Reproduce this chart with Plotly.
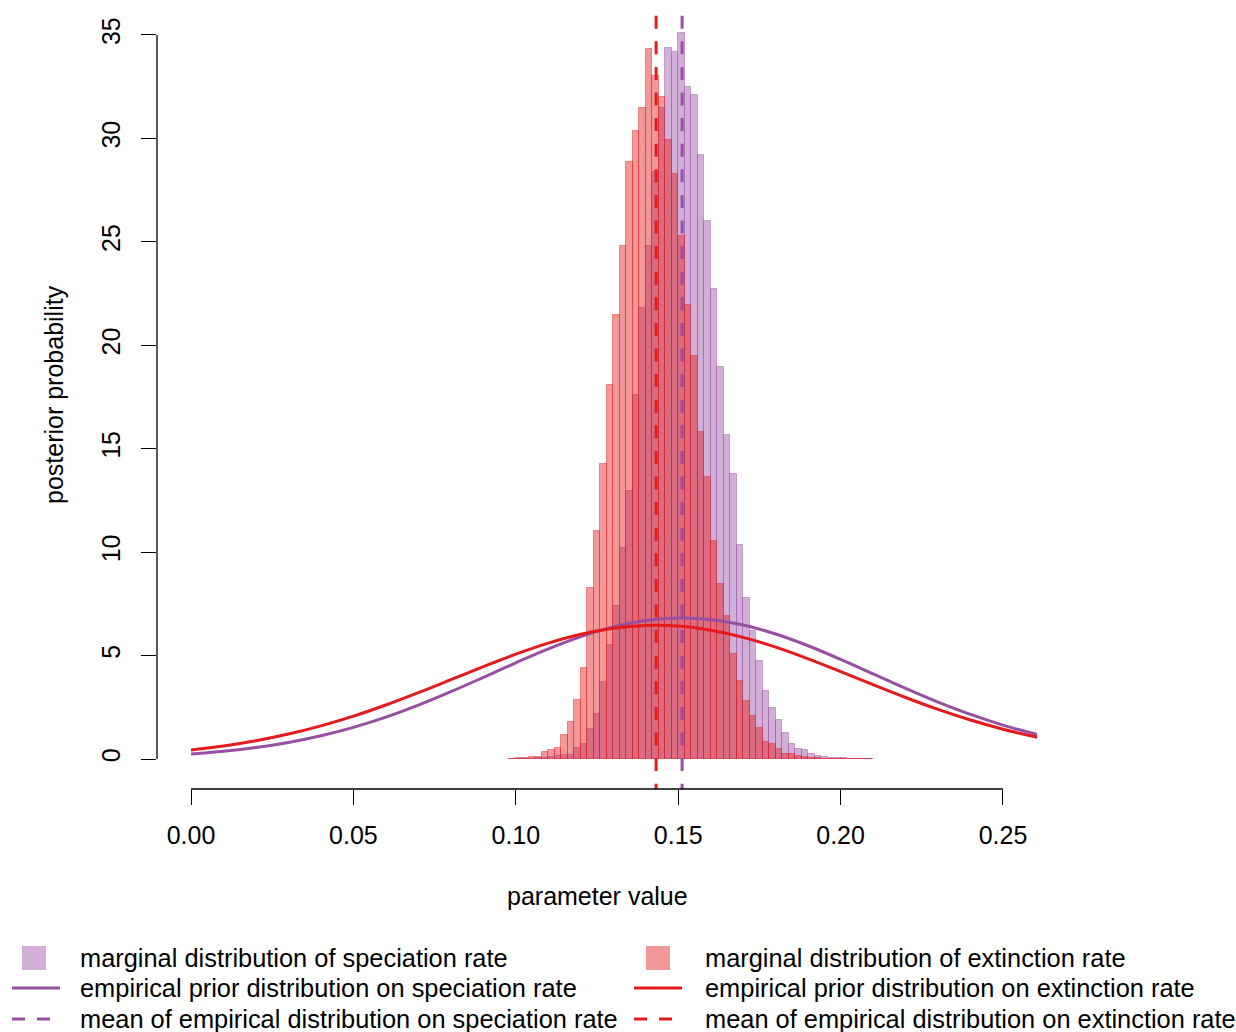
import plotly.graph_objects as go

# ---------------- data ----------------
bin_width = 0.002
first_bin_left = 0.098

speciation_density = [0, 0, 0, 0.02, 0.03, 0.05, 0.08, 0.13, 0.17, 0.21,
                      0.53, 0.72, 1.45, 2.18, 3.72, 5.50, 7.40, 10.20, 12.96, 17.60,
                      21.80, 24.80, 28.40, 31.47, 34.37, 34.20, 35.10, 32.50, 32.10, 29.20,
                      26.00, 22.70, 18.95, 15.66, 13.80, 10.35, 7.78, 6.20, 4.74, 3.29,
                      2.47, 1.89, 1.26, 0.73, 0.48, 0.44, 0.24, 0.15, 0.10, 0.05,
                      0.03, 0.03, 0.02, 0.02, 0.01, 0.01]

extinction_density = [0.02, 0.05, 0.05, 0.08, 0.10, 0.35, 0.45, 0.55, 1.16, 1.79,
                      2.85, 4.40, 8.27, 11.02, 14.26, 18.08, 21.46, 24.80, 28.86, 30.36,
                      31.47, 34.32, 33.02, 32.00, 29.90, 28.30, 25.30, 21.95, 19.48, 15.80,
                      13.63, 10.54, 8.46, 6.91, 5.08, 3.77, 2.80, 2.08, 1.50, 0.82,
                      0.73, 0.48, 0.24, 0.24, 0.15, 0.10, 0.05, 0.05, 0.02, 0.02,
                      0.02, 0.02, 0.01, 0.0, 0.0, 0.0]

curve_x = [0.00, 0.01, 0.02, 0.03, 0.04, 0.05, 0.06, 0.07, 0.08, 0.09,
           0.10, 0.11, 0.12, 0.13, 0.14, 0.15, 0.16, 0.17, 0.18, 0.19,
           0.20, 0.21, 0.22, 0.23, 0.24, 0.25, 0.26, 0.27]
speciation_prior = [0.242, 0.370, 0.552, 0.797, 1.120, 1.527, 2.023, 2.603, 3.252, 3.946,
                    4.650, 5.322, 5.916, 6.387, 6.696, 6.819, 6.743, 6.477, 6.042, 5.474,
                    4.816, 4.116, 3.415, 2.753, 2.155, 1.638, 1.210, 0.867]
extinction_prior = [0.439, 0.631, 0.884, 1.205, 1.601, 2.071, 2.610, 3.205, 3.833, 4.465,
                    5.066, 5.599, 6.028, 6.322, 6.458, 6.426, 6.228, 5.880, 5.407, 4.844,
                    4.226, 3.592, 2.974, 2.398, 1.884, 1.441, 1.074, 0.780]

speciation_mean = 0.1512
extinction_mean = 0.1432

x_ticks = [0.00, 0.05, 0.10, 0.15, 0.20, 0.25]
x_tick_labels = ["0.00", "0.05", "0.10", "0.15", "0.20", "0.25"]
y_ticks = [0, 5, 10, 15, 20, 25, 30, 35]
y_tick_labels = ["0", "5", "10", "15", "20", "25", "30", "35"]

legend_labels_left = ["marginal distribution of speciation rate",
                      "empirical prior distribution on speciation rate",
                      "mean of empirical distribution on speciation rate"]
legend_labels_right = ["marginal distribution of extinction rate",
                       "empirical prior distribution on extinction rate",
                       "mean of empirical distribution on extinction rate"]

# ---------------- styling ----------------
PURPLE = "#984EA3"
RED = "#E41A1C"
PURPLE_FILL = "rgba(152,78,163,0.45)"
RED_FILL = "rgba(228,26,28,0.45)"
FONT = "Liberation Sans, Arial, Helvetica, sans-serif"
FS = 25
FS_LEG = 25.4

W, H = 1236, 1032
L, R, T, B = 157, 1037, 6, 789   # plot area in pixels
X_RANGE = [-0.01047, 0.26047]
Y_RANGE = [-1.45, 36.40]


def px_x(p):
    return (p - L) / (R - L)


def px_y(p):
    return (B - p) / (B - T)


centers = [first_bin_left + bin_width * (i + 0.5) for i in range(len(speciation_density))]

fig = go.Figure()

fig.add_trace(go.Bar(x=centers, y=speciation_density, width=bin_width,
                     marker=dict(color=PURPLE_FILL, line=dict(color=PURPLE_FILL, width=1)),
                     showlegend=False, hoverinfo="skip"))
fig.add_trace(go.Bar(x=centers, y=extinction_density, width=bin_width,
                     marker=dict(color=RED_FILL, line=dict(color=RED_FILL, width=1)),
                     showlegend=False, hoverinfo="skip"))

fig.add_trace(go.Scatter(x=curve_x, y=speciation_prior, mode="lines",
                         line=dict(color=PURPLE, width=3, shape="spline"),
                         showlegend=False, hoverinfo="skip"))
fig.add_trace(go.Scatter(x=curve_x, y=extinction_prior, mode="lines",
                         line=dict(color=RED, width=3, shape="spline"),
                         showlegend=False, hoverinfo="skip"))

line_top = 35.93
for m, c in [(extinction_mean, RED), (speciation_mean, PURPLE)]:
    fig.add_trace(go.Scatter(x=[m, m], y=[line_top, Y_RANGE[0]], mode="lines",
                             line=dict(color=c, width=3, dash="13px,12.6px"),
                             showlegend=False, hoverinfo="skip"))

shapes = []
# axis lines spanning only the tick range (R style)
shapes.append(dict(type="line", xref="x", yref="paper", x0=x_ticks[0], x1=x_ticks[-1],
                   y0=0, y1=0, line=dict(color="black", width=1.3)))
shapes.append(dict(type="line", xref="paper", yref="y", x0=0, x1=0,
                   y0=y_ticks[0], y1=y_ticks[-1], line=dict(color="black", width=1.3)))

# legend symbols
row_y = [958, 988, 1019]
for col, (sq_x0, ln_x0, fill, lc) in enumerate([(22, 12, PURPLE_FILL, PURPLE), (646, 634, RED_FILL, RED)]):
    shapes.append(dict(type="rect", xref="paper", yref="paper",
                       x0=px_x(sq_x0), x1=px_x(sq_x0 + 24),
                       y0=px_y(row_y[0] - 12), y1=px_y(row_y[0] + 12),
                       fillcolor=fill, line=dict(width=0)))
    shapes.append(dict(type="line", xref="paper", yref="paper",
                       x0=px_x(ln_x0), x1=px_x(ln_x0 + 48),
                       y0=px_y(row_y[1]), y1=px_y(row_y[1]),
                       line=dict(color=lc, width=3)))
    shapes.append(dict(type="line", xref="paper", yref="paper",
                       x0=px_x(ln_x0), x1=px_x(ln_x0 + 48),
                       y0=px_y(row_y[2]), y1=px_y(row_y[2]),
                       line=dict(color=lc, width=3, dash="13px,12px")))

annotations = []
for i in range(3):
    annotations.append(dict(xref="paper", yref="paper", x=px_x(78), y=px_y(row_y[i]),
                            text=legend_labels_left[i], showarrow=False,
                            xanchor="left", yanchor="middle",
                            font=dict(size=FS_LEG, color="black", family=FONT)))
    annotations.append(dict(xref="paper", yref="paper", x=px_x(703), y=px_y(row_y[i]),
                            text=legend_labels_right[i], showarrow=False,
                            xanchor="left", yanchor="middle",
                            font=dict(size=FS_LEG, color="black", family=FONT)))

annotations.append(dict(xref="paper", yref="paper", x=px_x(597), y=px_y(896),
                        text="parameter value", showarrow=False,
                        xanchor="center", yanchor="middle",
                        font=dict(size=FS, color="black", family=FONT)))
annotations.append(dict(xref="paper", yref="paper", x=px_x(54), y=px_y(395),
                        text="posterior probability", showarrow=False, textangle=-90,
                        xanchor="center", yanchor="middle",
                        font=dict(size=FS, color="black", family=FONT)))

fig.update_layout(
    width=W, height=H,
    margin=dict(l=L, r=W - R, t=T, b=H - B, pad=0),
    paper_bgcolor="white", plot_bgcolor="white",
    barmode="overlay", bargap=0,
    showlegend=False,
    shapes=shapes, annotations=annotations,
    font=dict(family=FONT, size=FS, color="black"),
    xaxis=dict(range=X_RANGE, tickvals=x_ticks, ticktext=x_tick_labels,
               ticks="outside", ticklen=15, tickwidth=1.3, tickcolor="black",
               showline=False, showgrid=False, zeroline=False,
               tickfont=dict(size=FS, family=FONT, color="black"),
               ticklabelstandoff=9),
    yaxis=dict(range=Y_RANGE, tickvals=y_ticks, ticktext=y_tick_labels,
               ticks="outside", ticklen=15, tickwidth=1.3, tickcolor="black",
               showline=False, showgrid=False, zeroline=False, tickangle=-90,
               tickfont=dict(size=FS, family=FONT, color="black"),
               ticklabelstandoff=11),
)

fig.write_html("out.html")
